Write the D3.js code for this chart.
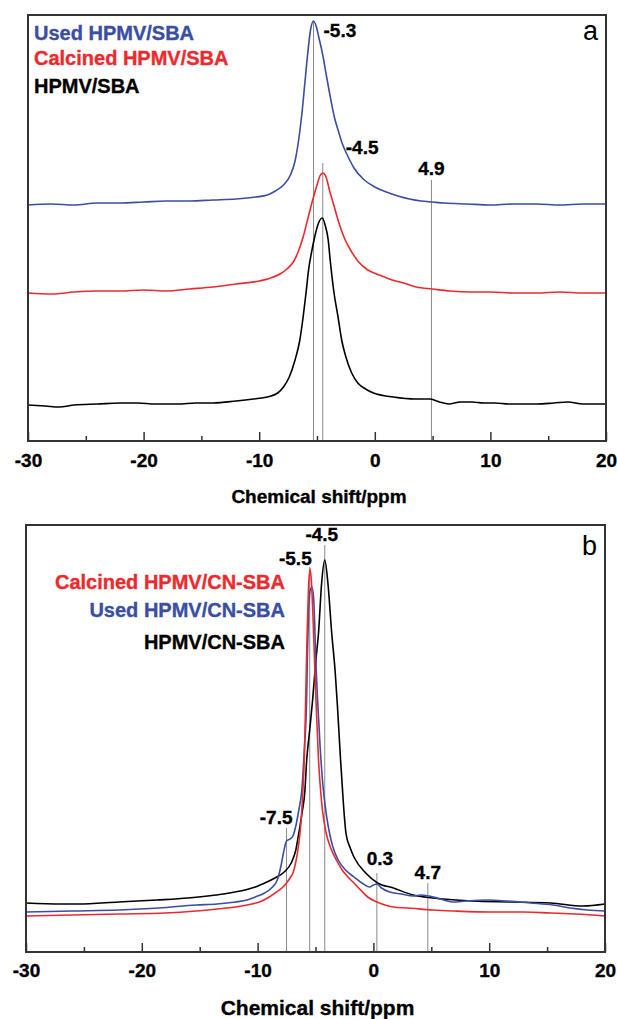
<!DOCTYPE html>
<html>
<head>
<meta charset="utf-8">
<script src="https://cdn.jsdelivr.net/npm/d3@7"></script>
<style>
  body { margin: 0; background: #fff; }
  svg { display: block; }
  text { font-family: "Liberation Sans", Arial, sans-serif; }
  text.heavy { stroke-width: 0.35px; paint-order: stroke; }
</style>
</head>
<body>
<script>
// ---- data (ppm, intensity a.u.) ----
var xTicks = [-30, -20, -10, 0, 10, 20];
var xMinorTicks = [-25, -15, -5, 5, 15];

// panel a
var usedSBA = [[-30,236],[-28,237],[-26,236],[-24,238],[-22,238],[-20,239],[-18,240],[-16,240],[-14,241],[-12,242],
  [-10.3,244],[-9.3,246],[-8.6,250],[-7.9,256],[-7.3,266],[-6.9,280],[-6.6,300],[-6.3,328],[-6.05,358],[-5.8,388],
  [-5.56,411],[-5.3,420],[-5.05,414],[-4.85,404],[-4.5,386],[-4.2,366],[-3.85,344],[-3.5,324],[-3.1,308],[-2.8,297],
  [-2.3,284],[-1.8,273],[-1.0,262],[0,254],[1,249],[2,245],[3,242],[4,240],[5,239],[6,238],[8,237],[10,236],
  [12,237],[14,237],[16,236],[18,237],[20,237]];
var calcinedSBA = [[-30,148],[-28,147],[-26,149],[-24,150],[-22,150],[-20,151],[-18,150],[-16,152],[-14,154],[-12,157],
  [-10,160],[-9,163],[-8.2,167],[-7.6,172],[-7.0,180],[-6.6,190],[-6.2,204],[-5.8,222],[-5.4,240],[-5.0,256],
  [-4.75,265],[-4.5,268],[-4.25,265],[-3.9,250],[-3.5,234],[-3.1,218],[-2.6,202],[-2.0,189],[-1.4,179],[-0.6,171],
  [0.4,166],[1.5,161],[2.5,158],[3.6,154],[5,152],[6.5,150],[8.4,149],[10,149],[12,148],[14,148],[16,149],[18,148],[20,148]];
var pristineSBA = [[-30,36],[-28.5,35],[-27.3,34],[-26,36],[-24,37],[-22,38],[-20.5,38],[-19,37],[-17,37],[-15.5,38],
  [-14,38],[-12,40],[-10.5,42],[-9.3,44],[-8.4,48],[-7.9,54],[-7.4,64],[-6.9,81],[-6.5,100],[-6.2,124],[-5.95,148],
  [-5.73,171],[-5.45,190],[-5.22,203],[-4.9,217],[-4.54,223],[-4.3,216],[-4.03,201],[-3.86,181],[-3.55,150],
  [-3.18,124],[-2.85,100],[-2.5,84],[-2.0,68],[-1.47,58],[-0.8,52],[-0.11,48],[1.6,44],[3.5,42],[4.8,42],[5.6,39],
  [6.4,37],[7.4,39],[8.4,39],[9.4,38],[10.4,38],[11.6,37],[12.8,37],[14,37],[15.5,38],[16.7,39],[18,37],[20,37]];
var marksA = [[-5.3, 420, "-5.3"], [-4.5, 278, "-4.5"], [4.9, 261, "4.9"]];

// panel b
var calcinedCN = [[-30,36],[-26,37],[-22,38],[-18,39],[-15.3,41],[-13.5,43],[-11.9,45],[-10.5,48],[-9.85,50],[-9.0,55],
  [-8.5,59],[-7.9,64],[-7.5,69],[-7.2,74],[-6.95,79],[-6.7,90],[-6.44,109],[-6.25,130],[-6.1,159],[-5.95,200],
  [-5.85,252],[-5.72,320],[-5.6,365],[-5.47,383],[-5.35,370],[-5.2,330],[-5.05,280],[-4.95,250],[-4.74,192],
  [-4.55,160],[-4.4,142],[-4.1,120],[-3.72,105],[-3.2,92],[-2.7,82],[-2.2,75],[-1.68,69],[-1.1,62],[-0.49,55],
  [0.3,50],[1,47],[1.73,45],[3,44],[5.13,42],[7,41],[10.2,40],[13,40],[15.3,39],[17.5,38],[20,36]];
var usedCN = [[-30,40],[-26,41],[-22,42],[-18.5,44],[-15.3,47],[-13.5,48],[-11.9,50],[-10.9,52],[-10.2,55],[-9.4,59],
  [-8.8,64],[-8.3,72],[-8.0,85],[-7.75,100],[-7.5,111],[-7.2,113],[-6.95,116],[-6.7,126],[-6.44,142],[-6.2,160],
  [-6.1,175],[-5.95,205],[-5.77,252],[-5.7,295],[-5.6,340],[-5.45,362],[-5.3,365],[-5.15,352],[-5.05,320],[-4.98,295],
  [-4.82,252],[-4.6,205],[-4.4,172],[-4.15,145],[-3.89,125],[-3.5,105],[-3.04,92],[-2.4,82],[-1.68,75],[-1.0,69],
  [-0.32,65],[0,67],[0.3,68],[0.7,64],[1.4,60],[2.4,58],[3.43,56],[4.1,57],[4.8,56],[5.8,53],[6.83,50],[8,51],
  [9.9,52],[11.5,51],[13.6,49],[15.5,47],[17,44],[18.5,42],[20,41]];
var pristineCN = [[-30,49],[-27,48],[-25.5,48],[-22,50],[-18.7,52],[-16,54],[-13.6,57],[-11.5,61],[-10.2,65],[-9.2,70],
  [-8.5,74],[-7.7,80],[-7.1,89],[-6.7,102],[-6.44,119],[-6.15,140],[-5.93,159],[-5.76,192],[-5.5,222],[-5.25,252],
  [-4.98,290],[-4.74,319],[-4.47,369],[-4.2,392],[-3.93,369],[-3.6,319],[-3.3,280],[-3.1,245],[-2.85,195],[-2.6,150],
  [-2.36,118],[-2.0,104],[-1.68,95],[-0.66,79],[0.36,69],[1.73,64],[3.43,57],[5.13,54],[8.53,51],[11.9,50],
  [15.3,49],[18.1,46],[20,48]];
var marksB = [[-7.5, 124, "-7.5"], [-5.5, 385, "-5.5"], [-4.2, 407, "-4.5"], [0.3, 79, "0.3"], [4.7, 69, "4.7"]];

var legendA = ["Used HPMV/SBA", "Calcined HPMV/SBA", "HPMV/SBA"];
var legendB = ["Calcined HPMV/CN-SBA", "Used HPMV/CN-SBA", "HPMV/CN-SBA"];

var blue = "#3a4ea3", red = "#ec2a2e", black = "#000";

var W = 617, H = 1019;
var svg = d3.select("body").append("svg").attr("width", W).attr("height", H);

function drawPanel(p) {
    var x = d3.scaleLinear().domain([-30, 20]).range([p.left, p.right]);
    var y = d3.scaleLinear().domain([0, p.bottom - p.top]).range([p.bottom, p.top]);
    var g = svg.append("g");

    // marker lines
    g.selectAll(".mark").data(p.marks).enter().append("line")
        .attr("x1", d => x(d[0])).attr("x2", d => x(d[0]))
        .attr("y1", d => y(d[1])).attr("y2", p.bottom)
        .attr("stroke", "#8a8a8a").attr("stroke-width", 1);

    var line = d3.line().x(d => x(d[0])).y(d => y(d[1])).curve(d3.curveMonotoneX);
    p.series.forEach(function (s) {
        g.append("path").datum(s.data)
            .attr("d", line).attr("fill", "none")
            .attr("stroke", s.color).attr("stroke-width", 1.6);
    });

    // marker labels
    g.selectAll(".mlab").data(p.marks).enter().append("text")
        .attr("class", "heavy").attr("stroke", "#000")
        .attr("x", (d, i) => x(d[0]) + p.labelPos[i][0])
        .attr("y", (d, i) => y(d[1]) + p.labelPos[i][1])
        .attr("text-anchor", (d, i) => p.labelPos[i][2])
        .attr("font-size", 19).attr("font-weight", "bold")
        .text(d => d[2]);

    // axes (ticks pointing inward)
    var major = d3.axisBottom(x).tickValues(xTicks).tickSize(-9).tickPadding(p.pad).tickFormat(d3.format("d"));
    var minor = d3.axisBottom(x).tickValues(xMinorTicks).tickSize(-5).tickFormat("");
    var ga = g.append("g").attr("transform", "translate(0," + p.bottom + ")").call(major);
    var gm = g.append("g").attr("transform", "translate(0," + p.bottom + ")").call(minor);
    [ga, gm].forEach(function (a) {
        a.select(".domain").remove();
        a.selectAll("line").attr("stroke", "#333").attr("stroke-width", 1.5);
    });
    ga.selectAll("text").attr("class", "heavy").attr("stroke", "#000")
        .attr("font-size", 19).attr("font-weight", "bold")
        .attr("fill", "#000").attr("font-family", "Liberation Sans, Arial, sans-serif")
        .text(d => d < 0 ? "-" + Math.abs(d) : d);

    g.append("rect").attr("x", p.left).attr("y", p.top)
        .attr("width", p.right - p.left).attr("height", p.bottom - p.top)
        .attr("fill", "none").attr("stroke", "#333").attr("stroke-width", 2);

    g.append("text").attr("class", "heavy").attr("stroke", "#000")
        .attr("x", (p.left + p.right) / 2 + 2).attr("y", p.xlabelY)
        .attr("text-anchor", "middle").attr("font-size", p.xlabelSize).attr("font-weight", "bold")
        .text("Chemical shift/ppm");

    g.append("text").attr("x", p.right - 8).attr("y", p.tagY)
        .attr("text-anchor", "end").attr("font-size", 27)
        .attr("font-family", "Open Sans, Liberation Sans, sans-serif")
        .text(p.tag);

    g.selectAll(".leg").data(p.legend).enter().append("text")
        .attr("class", "heavy")
        .attr("x", p.legendX).attr("y", (d, i) => p.legendY[i])
        .attr("text-anchor", p.legendAnchor)
        .attr("font-size", 20).attr("font-weight", "bold")
        .attr("fill", (d, i) => p.legendColors[i])
        .attr("stroke", (d, i) => p.legendColors[i])
        .text(d => d);
}

drawPanel({
    left: 28, right: 606, top: 15, bottom: 441, pad: 13,
    series: [{data: pristineSBA, color: black}, {data: calcinedSBA, color: red}, {data: usedSBA, color: blue}],
    marks: marksA,
    labelPos: [[10, 16, "start"], [23, -9, "start"], [0, -5, "middle"]],
    xlabelY: 503, xlabelSize: 19, tag: "a", tagY: 40,
    legend: legendA, legendX: 34, legendY: [40, 65, 93], legendAnchor: "start",
    legendColors: [blue, red, black]
});

drawPanel({
    left: 26, right: 605, top: 525, bottom: 952, pad: 12,
    series: [{data: pristineCN, color: black}, {data: usedCN, color: blue}, {data: calcinedCN, color: red}],
    marks: marksB,
    labelPos: [[6, -4, "end"], [2, -2, "end"], [-3, -4, "middle"], [3, -8, "middle"], [0, -4, "middle"]],
    xlabelY: 1015, xlabelSize: 21, tag: "b", tagY: 555,
    legend: legendB, legendX: 285, legendY: [589, 617, 649], legendAnchor: "end",
    legendColors: [red, blue, black]
});
</script>
</body>
</html>
